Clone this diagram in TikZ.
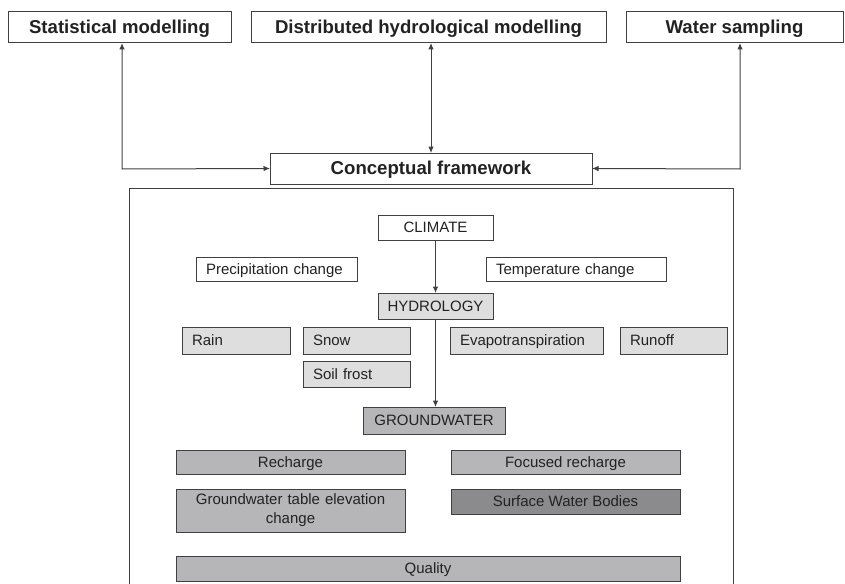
\documentclass[tikz,border=0pt]{standalone}
\usepackage{fontspec}
\setmainfont{Liberation Sans}
\usetikzlibrary{arrows.meta}
\definecolor{lightg}{HTML}{DEDEDF}
\definecolor{midg}{HTML}{B6B6B9}
\definecolor{darkg}{HTML}{8B8B8E}
\definecolor{edge}{HTML}{404040}
\definecolor{txt}{HTML}{222222}
\tikzset{
  bx/.style={draw=edge, line width=1pt, anchor=north west, inner sep=0pt, outer sep=0pt, text=txt},
  topbox/.style={bx, fill=white, font=\fontsize{18.6}{20}\selectfont\bfseries, align=center, text height=14pt, text depth=2pt},
  oneline/.style={text height=11.5pt, text depth=1pt},
  lbox/.style 2 args={bx, oneline, minimum height=#2, text width=#1-20pt, inner xsep=10pt, align=left, font=\fontsize{15}{18}\selectfont},
  cbox/.style 2 args={bx, minimum height=#2, minimum width=#1, align=center, font=\fontsize{15}{19}\selectfont},
  conn/.style={draw=edge, line width=1pt},
  tip/.style={-{Latex[length=6.5pt,width=5.5pt]}},
  dtip/.style={{Latex[length=6.5pt,width=5.5pt]}-{Latex[length=6.5pt,width=5.5pt]}},
}
\begin{document}
\begin{tikzpicture}[x=1pt,y=-1pt]
\useasboundingbox (0,0) rectangle (845,583);
\begin{scope}
\clip (0,0) rectangle (845,583);
% top boxes
\node[topbox, minimum width=223pt, minimum height=31pt] (stat) at (8,12) {Statistical modelling};
\node[topbox, minimum width=355pt, minimum height=31pt] (dist) at (251,12) {Distributed hydrological modelling};
\node[topbox, minimum width=217pt, minimum height=31pt] (water) at (626,12) {Water sampling};
\node[topbox, minimum width=322pt, minimum height=31pt] (concept) at (270,153) {Conceptual framework};
% outer frame (open at bottom)
\draw[draw=edge, line width=1pt] (129,600) -- (129,188) -- (733,188) -- (733,600);
% connectors
\coordinate (lc) at (122,169);
\coordinate (rc) at (740,169);
\draw[conn, dtip] (stat.south -| lc) -- (lc) -- (concept.west);
\draw[conn, dtip] (water.south -| rc) -- (rc) -- (concept.east);
\draw[conn, dtip] (dist.south -| concept.north) -- (concept.north);
% climate
\node[cbox={115pt}{25pt}, oneline, fill=white] (climate) at (378,215) {CLIMATE};
\node[lbox={161pt}{24pt}, fill=white] (precip) at (196,257) {Precipitation change};
\node[lbox={180pt}{24pt}, fill=white] (temp) at (486,257) {Temperature change};
% hydrology
\node[cbox={115pt}{26pt}, oneline, fill=lightg] (hydro) at (378,293) {HYDROLOGY};
\node[lbox={108pt}{27pt}, fill=lightg] (rain) at (182,327) {Rain};
\node[lbox={107pt}{27pt}, fill=lightg] (snow) at (303,327) {Snow};
\node[lbox={153pt}{27pt}, fill=lightg] (evap) at (450,327) {Evapotranspiration};
\node[lbox={107pt}{27pt}, fill=lightg] (runoff) at (620,327) {Runoff};
\node[lbox={107pt}{26pt}, fill=lightg] (frost) at (303,361) {Soil frost};
% groundwater
\node[cbox={142pt}{27pt}, oneline, fill=midg] (gw) at (363,407) {GROUNDWATER};
\node[cbox={229pt}{24pt}, oneline, fill=midg] (rech) at (176,450) {Recharge};
\node[cbox={229pt}{24pt}, oneline, fill=midg] (focus) at (451,450) {Focused recharge};
\node[cbox={229pt}{43pt}, fill=midg, text width=225pt] (table) at (176,489) {Groundwater table elevation\\change};
\node[cbox={229pt}{25pt}, oneline, fill=darkg] (surf) at (451,489) {Surface Water Bodies};
\node[cbox={504pt}{25pt}, oneline, fill=midg] (qual) at (176,556) {Quality};
% vertical arrows
\draw[conn, tip] (climate.south) -- (hydro.north);
\draw[conn, tip] (hydro.south) -- (hydro.south |- gw.north);
\end{scope}
\end{tikzpicture}
\end{document}
